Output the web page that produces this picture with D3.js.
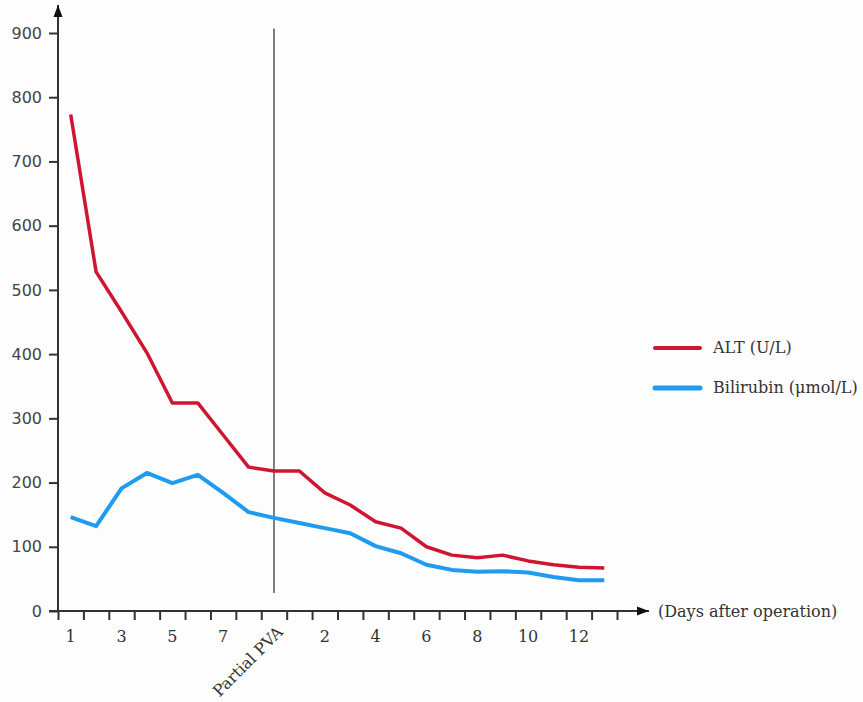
<!DOCTYPE html>
<html>
<head>
<meta charset="utf-8">
<script src="https://cdn.jsdelivr.net/npm/d3@7"></script>
<style>
  body { margin: 0; background: #fdfdfd; }
  svg { display: block; }
</style>
</head>
<body>
<div id="chart"></div>
<script>
// days before the operation (1-8), the partial PVA, then days after (1-13)
const categories = [
  "a1", "a2", "a3", "a4", "a5", "a6", "a7", "a8",
  "PVA",
  "b1", "b2", "b3", "b4", "b5", "b6", "b7", "b8", "b9", "b10", "b11", "b12", "b13"
];
const tickLabels = [
  "1", "", "3", "", "5", "", "7", "",
  "Partial PVA",
  "", "2", "", "4", "", "6", "", "8", "", "10", "", "12", ""
];
const altValues = [
  773, 528, 466, 402, 324, 324, 274, 224,
  218,
  218, 184, 165, 139, 129, 100, 87, 83, 87, 78, 72, 68, 67
];
const bilirubinValues = [
  146, 132, 191, 215, 199, 212, 184, 154,
  145,
  137, 129, 121, 101, 90, 72, 64, 61, 62, 60, 53, 48, 48
];
const yTicks = [0, 100, 200, 300, 400, 500, 600, 700, 800, 900];
const seriesNames = ["ALT (U/L)", "Bilirubin (\u03bcmol/L)"];
const seriesColors = ["#cf1530", "#1f9bef"];

const width = 863, height = 702;
const plotLeft = 58, plotRight = 617, plotTop = 33, plotBottom = 611;

const svg = d3.select("#chart")
  .append("svg")
  .attr("width", width)
  .attr("height", height);

const defs = svg.append("defs");
defs.append("marker")
  .attr("id", "arrow")
  .attr("viewBox", "0 0 12 10")
  .attr("refX", 12)
  .attr("refY", 5)
  .attr("markerWidth", 12)
  .attr("markerHeight", 10)
  .attr("markerUnits", "userSpaceOnUse")
  .attr("orient", "auto")
  .append("path")
  .attr("d", "M0,0.5 L12,5 L0,9.5 Z")
  .attr("fill", "#111");

const x = d3.scaleBand().domain(categories).range([plotLeft, plotRight]).padding(0);
const xEdges = d3.scaleLinear().domain([0, categories.length]).range([plotLeft, plotRight]);
const y = d3.scaleLinear().domain([0, 900]).range([plotBottom, plotTop]);

// y axis
const yAxis = svg.append("g")
  .attr("transform", `translate(${plotLeft},0)`)
  .call(d3.axisLeft(y).tickValues(yTicks).tickSize(9).tickPadding(7))
  .call(g => g.select(".domain").remove());
yAxis.selectAll(".tick line").attr("stroke", "#333").attr("stroke-width", 2);
yAxis.selectAll(".tick text")
  .attr("font-family", "DejaVu Sans")
  .attr("font-size", 16)
  .attr("fill", "#444");

svg.append("line")
  .attr("x1", plotLeft).attr("x2", plotLeft)
  .attr("y1", y(0) + 1).attr("y2", 5)
  .attr("stroke", "#333").attr("stroke-width", 2)
  .attr("marker-end", "url(#arrow)");

// x axis: ticks on band edges, labels in band centres
const xTickG = svg.append("g")
  .attr("transform", `translate(0,${plotBottom})`)
  .call(d3.axisBottom(xEdges).tickValues(d3.range(categories.length + 1)).tickSize(9).tickFormat(""))
  .call(g => g.select(".domain").remove());
xTickG.selectAll(".tick line").attr("stroke", "#333").attr("stroke-width", 2);

const xLabelG = svg.append("g")
  .attr("transform", `translate(0,${plotBottom})`)
  .call(d3.axisBottom(x).tickSize(0).tickPadding(20).tickFormat((d, i) => tickLabels[i]))
  .call(g => g.select(".domain").remove());
xLabelG.selectAll(".tick text")
  .attr("font-family", "DejaVu Serif")
  .attr("font-size", 16)
  .attr("fill", "#333");
xLabelG.selectAll(".tick text")
  .filter(d => d === "PVA")
  .attr("text-anchor", "end")
  .attr("dy", 0)
  .attr("y", 0)
  .attr("transform", "translate(10,22) rotate(-45)");

svg.append("line")
  .attr("x1", 49).attr("x2", 649)
  .attr("y1", plotBottom).attr("y2", plotBottom)
  .attr("stroke", "#333").attr("stroke-width", 2)
  .attr("marker-end", "url(#arrow)");

svg.append("text")
  .attr("x", 658).attr("y", plotBottom + 6)
  .attr("font-family", "DejaVu Serif")
  .attr("font-size", 16)
  .attr("fill", "#333")
  .text("(Days after operation)");

// partial PVA marker
svg.append("line")
  .attr("x1", x("PVA") + x.bandwidth() / 2).attr("x2", x("PVA") + x.bandwidth() / 2)
  .attr("y1", y(907)).attr("y2", y(28))
  .attr("stroke", "#555").attr("stroke-width", 1.5);

// lines
const line = d3.line()
  .x((d, i) => x(categories[i]) + x.bandwidth() / 2)
  .y(d => y(d));

[altValues, bilirubinValues].forEach((vals, i) => {
  svg.append("path")
    .datum(vals)
    .attr("fill", "none")
    .attr("stroke", seriesColors[i])
    .attr("stroke-width", i ? 4 : 3.5)
    .attr("stroke-linejoin", "round")
    .attr("d", line);
});

// legend
const legend = svg.append("g").attr("transform", "translate(655,348)");
legend.selectAll("g")
  .data(seriesNames)
  .join("g")
  .attr("transform", (d, i) => `translate(0,${i * 40})`)
  .call(g => g.append("line")
    .attr("x1", 0).attr("x2", 45)
    .attr("stroke", (d, i) => seriesColors[i])
    .attr("stroke-width", (d, i) => i ? 5 : 4)
    .attr("stroke-linecap", "round"))
  .call(g => g.append("text")
    .attr("x", 58).attr("y", 5)
    .attr("font-family", "DejaVu Serif")
    .attr("font-size", 16)
    .attr("fill", "#333")
    .text(d => d));
</script>
</body>
</html>
